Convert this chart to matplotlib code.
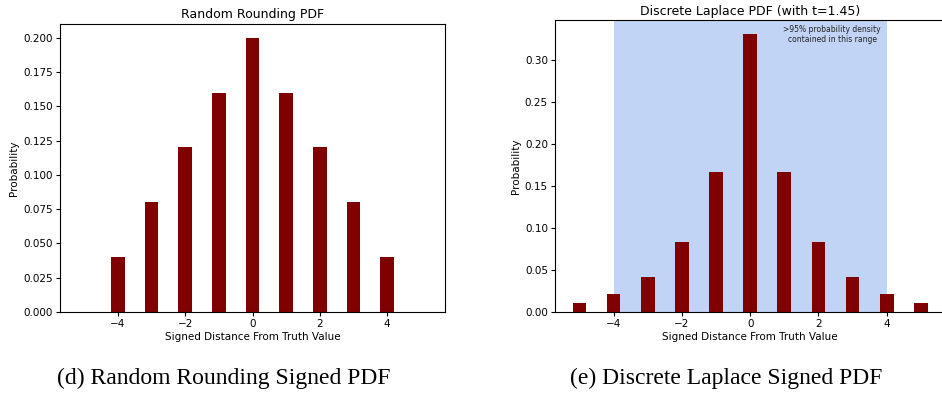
import matplotlib
matplotlib.use("Agg")
import matplotlib.pyplot as plt

rr_x = [-4, -3, -2, -1, 0, 1, 2, 3, 4]
rr_p = [0.04, 0.08, 0.12, 0.16, 0.20, 0.16, 0.12, 0.08, 0.04]

dl_x = [-5, -4, -3, -2, -1, 0, 1, 2, 3, 4, 5]
dl_p = [0.0105, 0.021, 0.042, 0.0835, 0.167, 0.331, 0.167, 0.0835, 0.042, 0.021, 0.0105]

span = (-4, 4)
bar_color = "#800000"
span_color = "#c2d4f5"

fig = plt.figure(figsize=(9.42, 3.94), dpi=100)
ax1 = fig.add_axes([0.0637, 0.208, 0.4087, 0.731])
ax2 = fig.add_axes([0.589, 0.208, 0.4147, 0.741])

tick_fs = 7.5
lab_fs = 7.5

ax1.bar(rr_x, rr_p, width=0.4, color=bar_color)
ax1.set_xlim(-5.72, 5.72)
ax1.set_title("Random Rounding PDF", fontsize=9, pad=4)
ax1.set_xlabel("Signed Distance From Truth Value", fontsize=lab_fs, labelpad=2)
ax1.set_ylabel("Probability", fontsize=lab_fs, labelpad=3)
ax1.tick_params(labelsize=tick_fs, length=3, pad=2)

ax2.axvspan(span[0], span[1], color=span_color, lw=0, zorder=0)
ax2.bar(dl_x, dl_p, width=0.4, color=bar_color, zorder=2)
ax2.set_xlim(-5.72, 5.72)
ax2.spines["right"].set_visible(False)
ax2.set_title("Discrete Laplace PDF (with t=1.45)", fontsize=9, pad=4)
ax2.set_xlabel("Signed Distance From Truth Value", fontsize=lab_fs, labelpad=2)
ax2.set_ylabel("Probability", fontsize=lab_fs, labelpad=3)
ax2.tick_params(labelsize=tick_fs, length=3, pad=2)
ax2.text(2.4, 0.3415, ">95% probability density\ncontained in this range",
         ha="center", va="top", fontsize=5.5, color="#222222", linespacing=1.1, zorder=3)

fig.text(0.238, 0.04, "(d) Random Rounding Signed PDF", ha="center", va="center",
         fontsize=17, family="Liberation Serif")
fig.text(0.771, 0.04, "(e) Discrete Laplace Signed PDF", ha="center", va="center",
         fontsize=17, family="Liberation Serif")

fig.savefig("out.png", dpi=100)
